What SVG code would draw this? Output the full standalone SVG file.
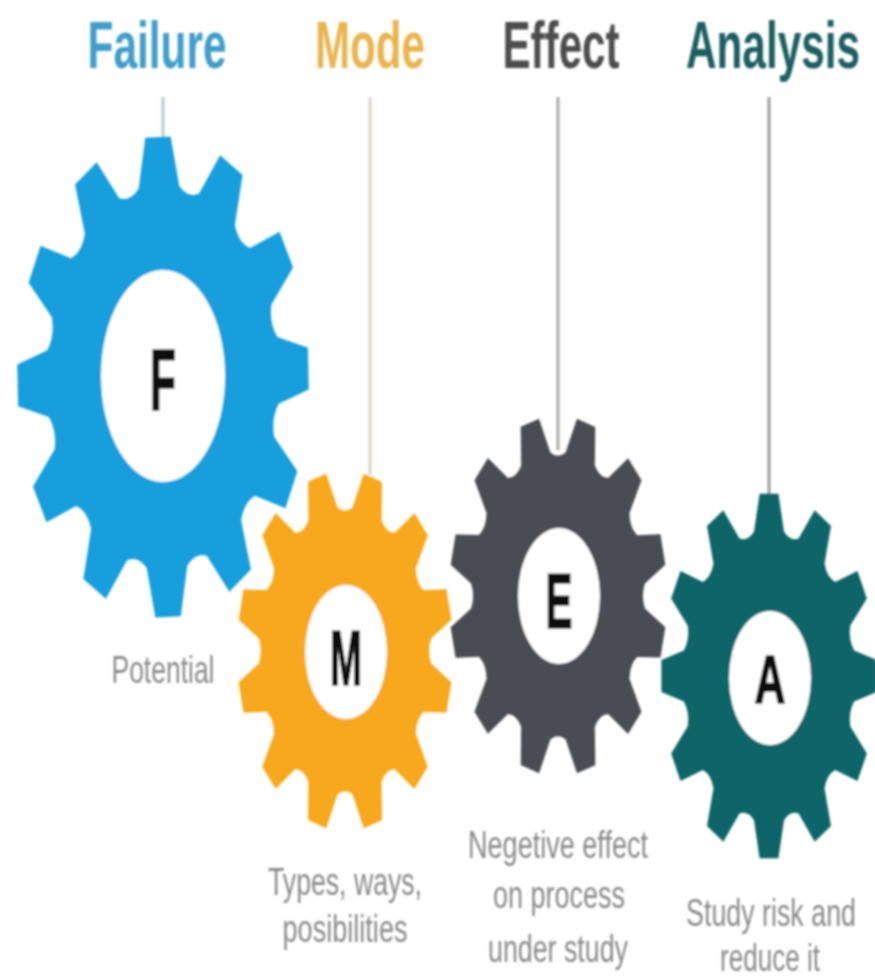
<svg xmlns="http://www.w3.org/2000/svg" xmlns:xlink="http://www.w3.org/1999/xlink" width="875" height="979" viewBox="0 0 875 979">
<style>
text{font-family:"Liberation Sans",Arial,sans-serif;text-anchor:middle}
.t{font-size:66px;font-weight:bold}
.l{font-size:78px;font-weight:bold;fill:#111;stroke:#111;stroke-width:1.6}
.d{font-size:38px;fill:#8b8b8b}
.c{stroke-width:3;fill:none}
.h{fill:#fff}
</style>
<defs>
<filter id="b" x="-5%" y="-5%" width="110%" height="110%"><feGaussianBlur stdDeviation="1.2"/></filter>
<filter id="s" x="-5%" y="-20%" width="110%" height="140%"><feGaussianBlur stdDeviation="0.9"/></filter>
<path id="gear" d="M-87-996L87-996L139-788Q197-734 274-752L423-906L574-819L514-613Q537-537 613-514L819-574L906-423L752-274Q734-197 788-139L996-87L996 87L788 139Q734 197 752 274L906 423L819 574L613 514Q537 537 514 613L574 819L423 906L274 752Q197 734 139 788L87 996L-87 996L-139 788Q-197 734-274 752L-423 906L-574 819L-514 613Q-537 537-613 514L-819 574L-906 423L-752 274Q-734 197-788 139L-996 87L-996-87L-788-139Q-734-197-752-274L-906-423L-819-574L-613-514Q-537-537-514-613L-574-819L-423-906L-274-752Q-197-734-139-788Z"/>
</defs>
<rect width="875" height="979" fill="#fff"/>
<g id="connectors" filter="url(#s)">
<path class="c" stroke="#bccbcc" d="M163 97V138"/>
<path class="c" stroke="#d9d4c8" d="M370 97V475"/>
<path class="c" stroke="#a9a9a9" d="M558 97V450"/>
<path class="c" stroke="#9c9c9c" d="M769 97V497"/>
</g>
<g id="node-f" filter="url(#b)">
<use xlink:href="#gear" href="#gear" fill="#159fdc" transform="translate(163 377) scale(.146 .241) rotate(-2)"/>
<ellipse class="h" cx="163" cy="376" rx="62" ry="106"/>
<text class="l" x="163" y="410" style="font-size:88px" textLength="26" lengthAdjust="spacingAndGlyphs">F</text>
<text class="d" x="163" y="683" textLength="103" lengthAdjust="spacingAndGlyphs">Potential</text>
<text class="t" x="157" y="68" fill="#3f9ecb" textLength="139" lengthAdjust="spacingAndGlyphs">Failure</text>
</g>
<g id="node-m" filter="url(#b)">
<use xlink:href="#gear" href="#gear" fill="#f7a81b" transform="translate(345 651) scale(.108 .18) rotate(15)"/>
<ellipse class="h" cx="346" cy="652" rx="41" ry="67"/>
<text class="l" x="346" y="685" textLength="32" lengthAdjust="spacingAndGlyphs">M</text>
<text class="d" x="345" y="895" textLength="154" lengthAdjust="spacingAndGlyphs">Types, ways,</text>
<text class="d" x="345" y="942" textLength="125" lengthAdjust="spacingAndGlyphs">posibilities</text>
<text class="t" x="370" y="68" fill="#e9b54d" textLength="110" lengthAdjust="spacingAndGlyphs">Mode</text>
</g>
<g id="node-e" filter="url(#b)">
<use xlink:href="#gear" href="#gear" fill="#4a4d52" transform="translate(558 596) scale(.109 .18) rotate(15)"/>
<ellipse class="h" cx="559" cy="596" rx="41" ry="68"/>
<text class="l" x="559" y="628" textLength="27" lengthAdjust="spacingAndGlyphs">E</text>
<text class="d" x="558" y="858" textLength="180" lengthAdjust="spacingAndGlyphs">Negetive effect</text>
<text class="d" x="559" y="908" textLength="132" lengthAdjust="spacingAndGlyphs">on process</text>
<text class="d" x="558" y="962" textLength="140" lengthAdjust="spacingAndGlyphs">under study</text>
<text class="t" x="561" y="68" fill="#4d4d4d" textLength="117" lengthAdjust="spacingAndGlyphs">Effect</text>
</g>
<g id="node-a" filter="url(#b)">
<use xlink:href="#gear" href="#gear" fill="#0b6567" transform="translate(769 676) scale(.108 .183)"/>
<ellipse class="h" cx="770" cy="678" rx="41" ry="67"/>
<text class="l" x="770" y="703" style="font-size:68px" textLength="31" lengthAdjust="spacingAndGlyphs">A</text>
<text class="d" transform="translate(771 926) scale(.706 1)">Study risk and</text>
<text class="d" x="770" y="971" textLength="100" lengthAdjust="spacingAndGlyphs">reduce it</text>
<text class="t" transform="translate(773 68) scale(.642 1)" fill="#1f5f60">Analysis</text>
</g>
</svg>
